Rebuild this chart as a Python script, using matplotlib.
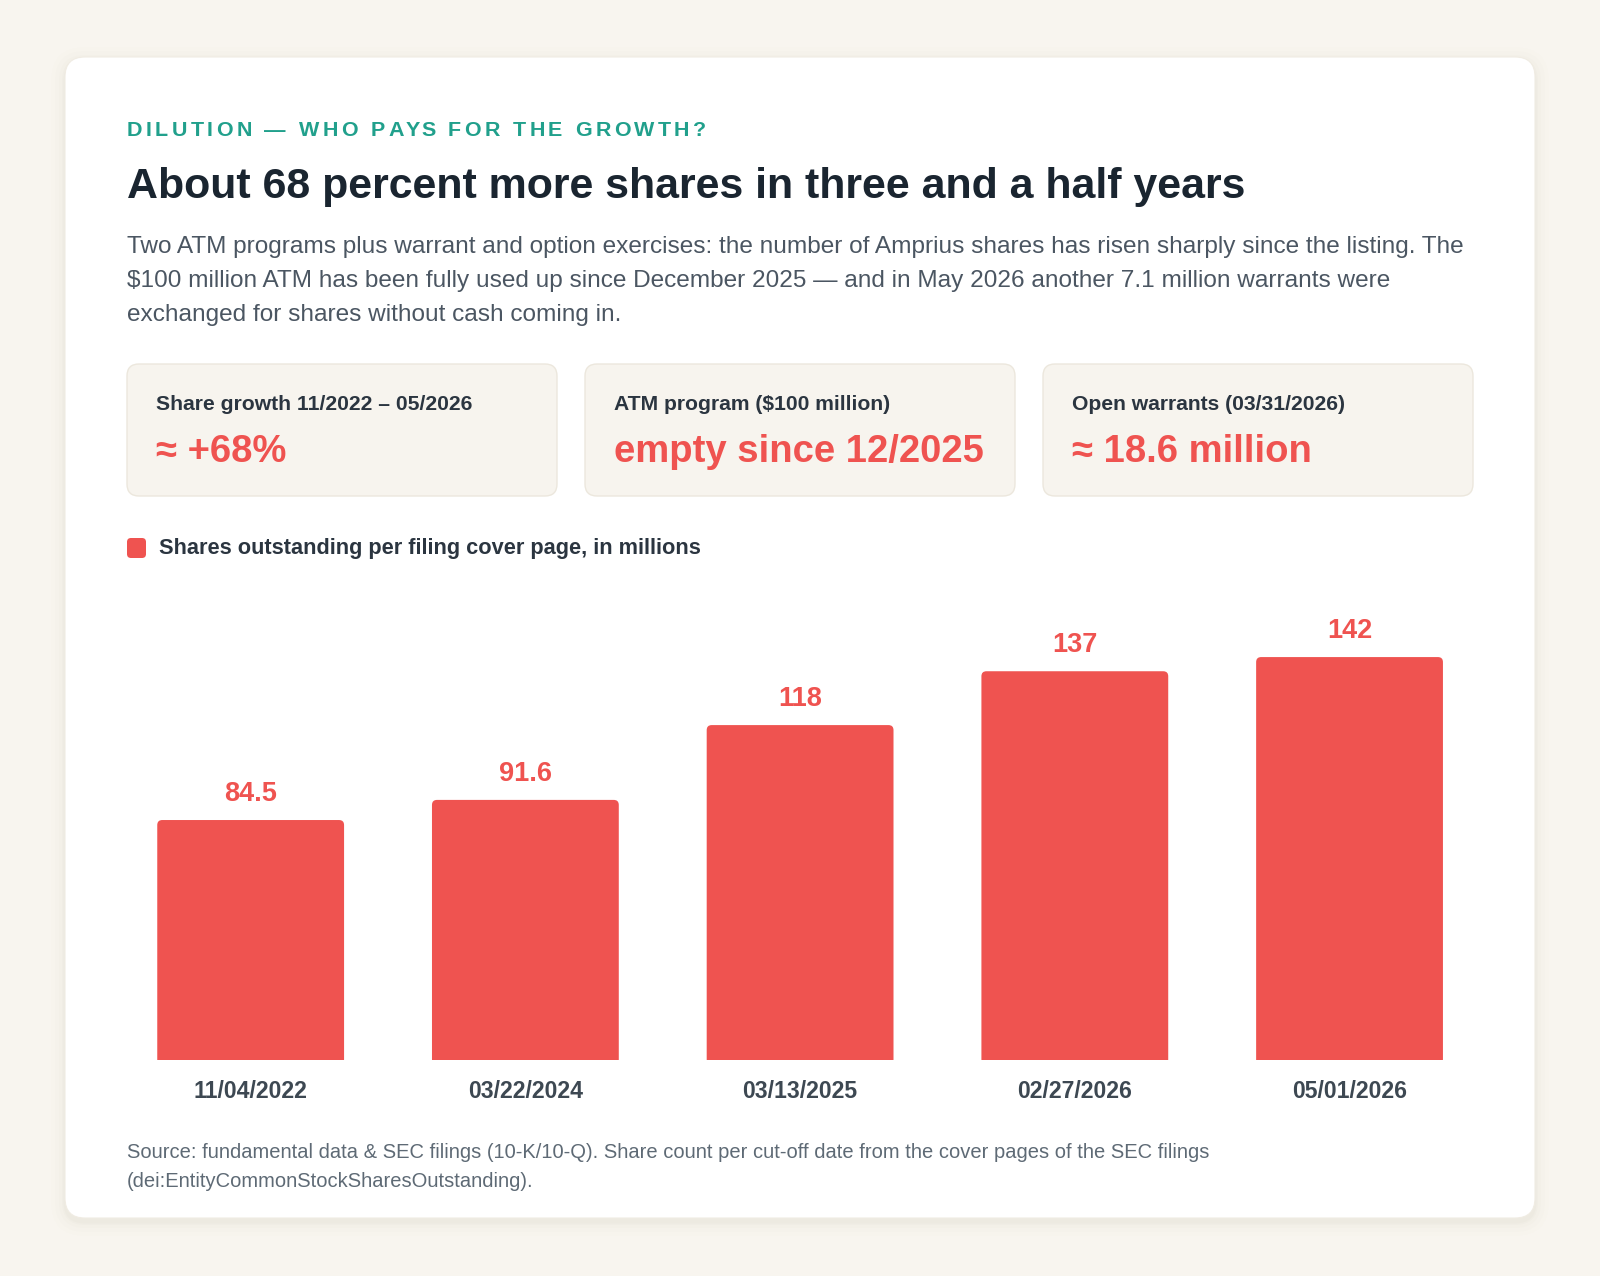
import matplotlib
matplotlib.use('Agg')
import matplotlib.pyplot as plt
from matplotlib.patches import FancyBboxPatch

plt.rcParams['font.family'] = ['Liberation Sans', 'DejaVu Sans']

# ---------------- data ----------------
dates = ['11/04/2022', '03/22/2024', '03/13/2025', '02/27/2026', '05/01/2026']
shares = [84.5, 91.6, 118, 137, 142]
share_labels = ['84.5', '91.6', '118', '137', '142']
kpi_titles = ['Share growth 11/2022 – 05/2026', 'ATM program ($100 million)',
              'Open warrants (03/31/2026)']
kpi_values = ['≈ +68%', 'empty since 12/2025', '≈ 18.6 million']
eyebrow = 'DILUTION — WHO PAYS FOR THE GROWTH?'
title = 'About 68 percent more shares in three and a half years'
subtitle_lines = [
    'Two ATM programs plus warrant and option exercises: the number of Amprius shares has risen sharply since the listing. The',
    '$100 million ATM has been fully used up since December 2025 — and in May 2026 another 7.1 million warrants were',
    'exchanged for shares without cash coming in.',
]
legend_label = 'Shares outstanding per filing cover page, in millions'
source_lines = [
    'Source: fundamental data & SEC filings (10-K/10-Q). Share count per cut-off date from the cover pages of the SEC filings',
    '(dei:EntityCommonStockSharesOutstanding).',
]

# ---------------- style ----------------
BG = '#F8F5EF'
RED = '#EF5350'
TEAL = '#21A08C'
DARK = '#1A2530'
GRAY = '#4B5662'
LABEL = '#2B3540'
TICK = '#3D4852'
FOOT = '#5E6A75'

W, H = 1600, 1276
DPI = 100
fig = plt.figure(figsize=(W / DPI, H / DPI), dpi=DPI, facecolor=BG)
bg = fig.add_axes([0, 0, 1, 1])
bg.set_xlim(0, W)
bg.set_ylim(H, 0)
bg.axis('off')
R = fig.canvas.get_renderer()


def pt(p):
    return p * 72 / DPI


def txt(x, y, s, size_px, **kw):
    return bg.text(x, y, s, fontsize=pt(size_px), va='baseline', **kw)


def width(t):
    return t.get_window_extent(R).width


def fit(t, target):
    t.set_fontsize(t.get_fontsize() * target / width(t))
    return t.get_fontsize()


def rbox(x, y, w, h, r, **kw):
    p = FancyBboxPatch((x, y), w, h, boxstyle=f'round,pad=0,rounding_size={r}', **kw)
    bg.add_patch(p)
    return p


# card shadow + card
for grow, a in [(14, 0.008), (10, 0.01), (6, 0.014), (3, 0.018), (1.5, 0.022)]:
    rbox(65 - grow, 57 - grow + 4, 1470 + 2 * grow, 1161 + 2 * grow, 20 + grow,
         fc='#8a7a5a', ec='none', alpha=a)
rbox(65, 57, 1470, 1161, 20, fc='white', ec='#F0ECE3', lw=0.8)

# eyebrow with letter spacing
ey_size = 21.5
probe = txt(0, 0, '|', ey_size, weight='bold')
bar_w = width(probe)
probe.remove()
full = txt(0, 0, eyebrow + '|', ey_size, weight='bold')
natural = width(full) - bar_w
full.remove()
spacing = (579 - natural) / (len(eyebrow) - 1)
for i, ch in enumerate(eyebrow):
    if i == 0:
        off = 0
    else:
        t = txt(0, 0, eyebrow[:i] + '|', ey_size, weight='bold')
        off = width(t) - bar_w
        t.remove()
    if ch != ' ':
        txt(127 + off + i * spacing, 136, ch, ey_size, weight='bold', color=TEAL)

# title
t = txt(127, 198, title, 40, weight='bold', color=DARK)
fit(t, 1120)

# subtitle
base = [253, 287, 321]
sub_size = None
for i, line in enumerate(subtitle_lines):
    t = txt(127, base[i], line, 20, color=GRAY)
    if i == 0:
        sub_size = fit(t, 1342)
    else:
        t.set_fontsize(sub_size)

# KPI boxes
lab_size = None
val_size = None
vals = []
for i, (kt, kv) in enumerate(zip(kpi_titles, kpi_values)):
    x0 = 127 + i * 458
    rbox(x0, 364, 430, 132, 12, fc='#F7F4EE', ec='#ECE7DD', lw=1)
    tl = txt(x0 + 29, 410, kt, 18, weight='bold', color=LABEL)
    tv = txt(x0 + 29, 462, kv, 36, weight='bold', color=RED)
    vals.append(tv)
    if i == 0:
        lab_size = fit(tl, 317)
    else:
        tl.set_fontsize(lab_size)
    if i == 1:
        val_size = fit(tv, 371)
for tv in vals:
    tv.set_fontsize(val_size)

# legend
rbox(127, 538, 19, 20, 4, fc=RED, ec='none')
t = txt(159, 554, legend_label, 19, weight='bold', color=LABEL)
fit(t, 543)

# footer
foot_size = None
for i, line in enumerate(source_lines):
    t = txt(127, [1158, 1187][i], line, 17, color=FOOT)
    if i == 0:
        foot_size = fit(t, 1081)
    else:
        t.set_fontsize(foot_size)

# ---------------- bar chart ----------------
ax_left, ax_right = 113.3, 1486.9
ax_bottom, ax_top = 1059.5, 580
px_per_unit = 2.834
ax = fig.add_axes([ax_left / W, 1 - ax_bottom / H, (ax_right - ax_left) / W,
                   (ax_bottom - ax_top) / H])
ax.patch.set_visible(False)
ax.set_xlim(-0.5, len(shares) - 0.5)
ax.set_ylim(0, (ax_bottom - ax_top) / px_per_unit)
for s in ax.spines.values():
    s.set_visible(False)
ax.set_yticks([])

xs = list(range(len(shares)))
bars = ax.bar(xs, shares, width=0.68, color=RED)

dx = (ax.get_xlim()[1] - ax.get_xlim()[0]) / (ax_right - ax_left)
dy = (ax.get_ylim()[1] - ax.get_ylim()[0]) / (ax_bottom - ax_top)
r = 5
for p in bars.patches:
    p.set_visible(False)
    rb = FancyBboxPatch((p.get_x(), -r * dy), p.get_width(), p.get_height() + r * dy,
                        boxstyle=f'round,pad=0,rounding_size={r * dx}',
                        mutation_aspect=dy / dx, fc=RED, ec='none')
    ax.add_patch(rb)

lbl_size = None
for i, (v, lab) in enumerate(zip(shares, share_labels)):
    a = ax.annotate(lab, (i, v), xytext=(0, pt(19)), textcoords='offset points',
                    ha='center', va='baseline', fontsize=pt(27), weight='bold', color=RED)
    if i == 0:
        lbl_size = fit(a, 53)
    else:
        a.set_fontsize(lbl_size)

ax.set_xticks(xs, dates)
ax.tick_params(axis='x', length=0, pad=pt(38.5), labelsize=pt(23), labelcolor=TICK)
for tl in ax.get_xticklabels():
    tl.set_fontweight('bold')
    tl.set_va('baseline')

fig.savefig('out.png', dpi=DPI, facecolor=BG)
